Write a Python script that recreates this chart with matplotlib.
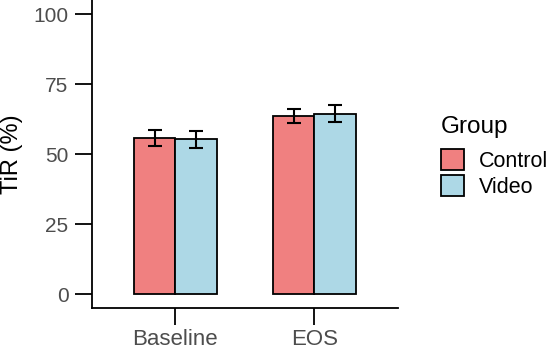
import matplotlib
matplotlib.use('Agg')
import matplotlib.pyplot as plt
from matplotlib.patches import Patch
import numpy as np

plt.rcParams['font.family'] = ['Liberation Sans', 'DejaVu Sans']

# data
timepoints = ['Baseline', 'EOS']
groups = ['Control', 'Video']
tir_mean = {'Control': [55.7, 63.6], 'Video': [55.2, 64.4]}
tir_se = {'Control': [2.8, 2.5], 'Video': [3.0, 3.0]}
colors = {'Control': '#F08080', 'Video': '#ADD8E6'}

fig = plt.figure(figsize=(5.51, 3.5), dpi=100)
ax = fig.add_axes([0.167, 0.12, 0.555, 0.88])

x = np.arange(1, len(timepoints) + 1)
width = 0.3
for i, g in enumerate(groups):
    pos = x + (i - 0.5) * width
    ax.bar(pos, tir_mean[g], width, color=colors[g], edgecolor='black', linewidth=1.3, zorder=2)
    ax.errorbar(pos, tir_mean[g], yerr=tir_se[g], fmt='none', ecolor='black',
                elinewidth=1.5, capsize=5, capthick=1.5, zorder=3)

ax.set_xlim(0.4, 2.6)
ax.set_ylim(-5, 105)
ax.set_xticks(x)
ax.set_xticklabels(timepoints)
ax.set_yticks([0, 25, 50, 75, 100])
ax.set_ylabel('TiR (%)', fontsize=17)
ax.yaxis.set_label_coords(-0.225, 0.5)

for side in ['top', 'right']:
    ax.spines[side].set_visible(False)
for side in ['left', 'bottom']:
    ax.spines[side].set_linewidth(1.3)
ax.tick_params(axis='both', length=12, width=1.3, labelcolor='#4D4D4D', pad=5)
ax.tick_params(axis='y', labelsize=15)
ax.tick_params(axis='x', labelsize=16, pad=3)

# legend: title as plain text, entries below it
fig.text(441 / 551, 0.621, 'Group', fontsize=17.5, ha='left', va='baseline')
handles = [Patch(facecolor=colors[g], edgecolor='black', linewidth=1.3, label=g) for g in groups]
leg = fig.legend(handles=handles, loc='upper left', bbox_to_anchor=(441 / 551, 0.574),
                 frameon=False, fontsize=15.5, handlelength=1.05, handleheight=1.1,
                 handletextpad=0.7, labelspacing=0.15, borderpad=0, borderaxespad=0)

fig.savefig('out.png', dpi=100)
